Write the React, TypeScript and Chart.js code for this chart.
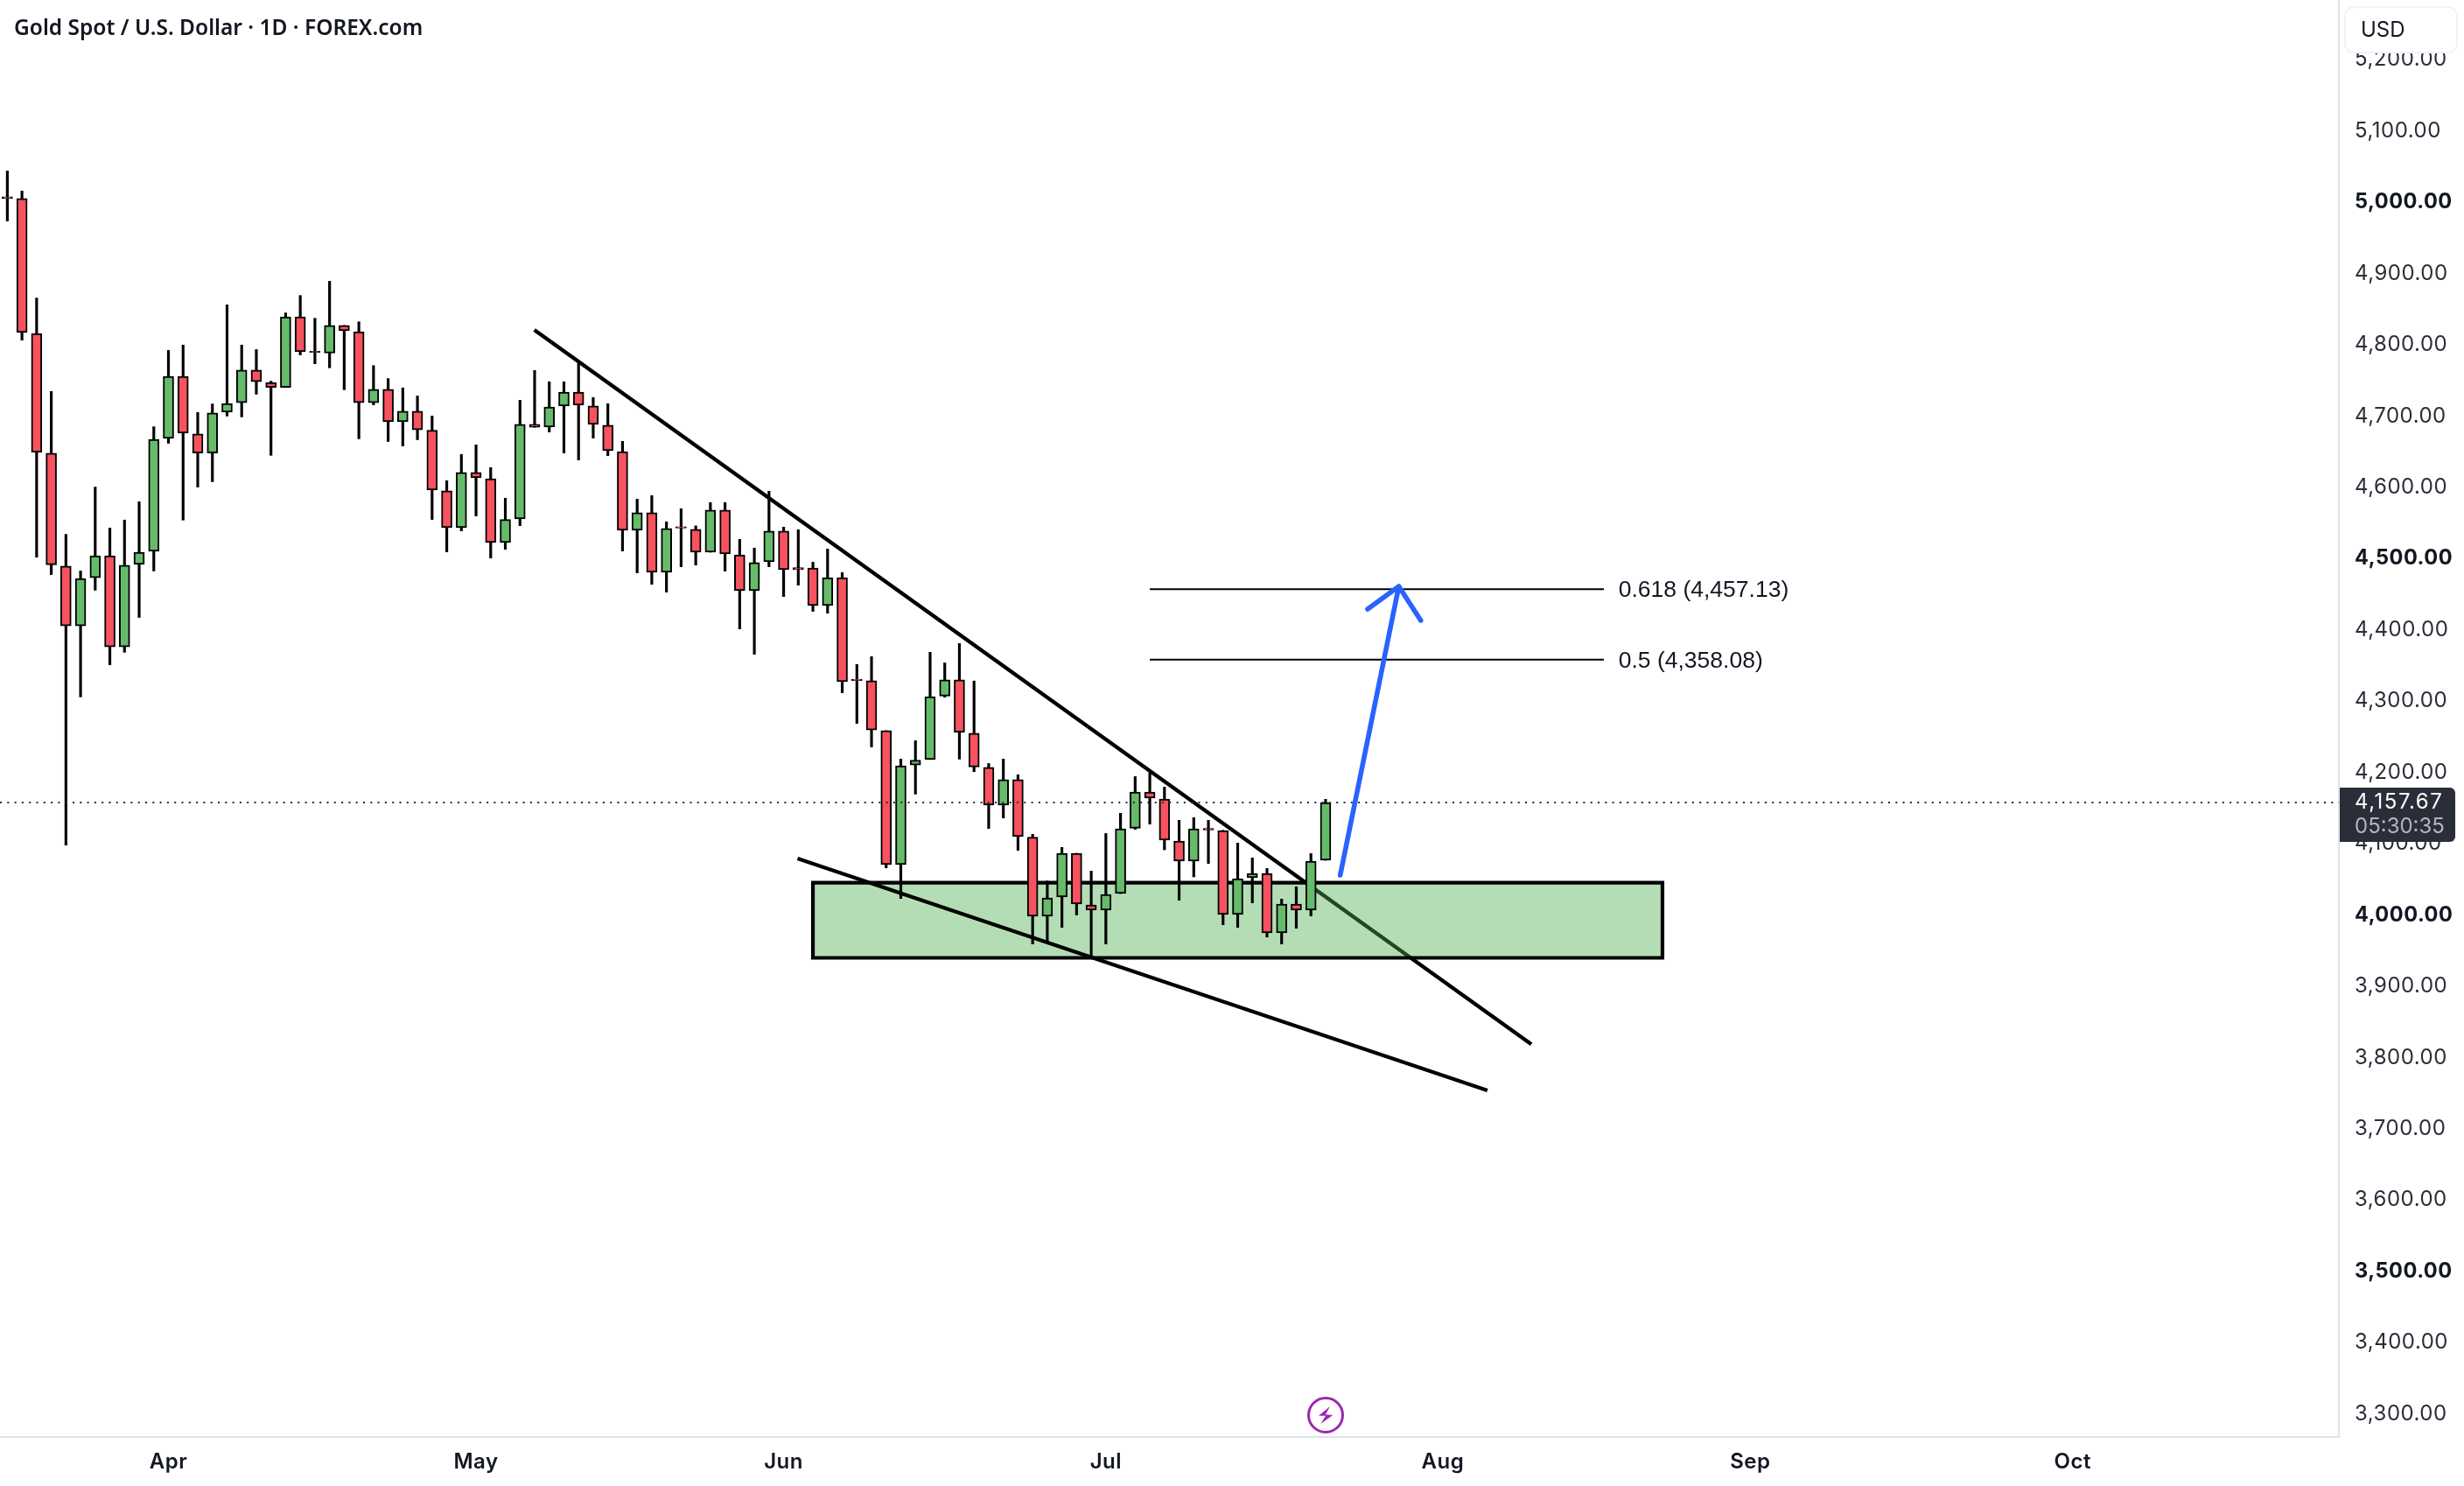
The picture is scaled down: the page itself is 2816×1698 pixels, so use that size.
import React, { useEffect, useRef } from "react";
import { Chart, registerables } from "chart.js";

Chart.register(...registerables);

const opens = [5007.5,5005,4815.8,4647.9,4489.4,4405.5,4473.2,4503.8,4376,4491.9,4510.1,4668.6,4755.7,4674.9,4647.9,4705.5,4718.7,4764.4,4746.9,4740,4839,4791,4788.2,4827,4818.3,4718.7,4737.5,4691.8,4706.8,4680,4594.9,4543.3,4620.7,4612,4522.4,4555.6,4688.2,4684.5,4714,4733.6,4714,4687,4650.1,4539.6,4564.2,4480.7,4544.7,4540.9,4508.9,4567.9,4505.2,4454.9,4495.4,4538.4,4487.2,4486.8,4434,4473.3,4330.7,4328.6,4258.5,4070.8,4210.2,4218.1,4307.1,4329.9,4255,4207.2,4154,4190,4109,3998.1,4025.1,4086.5,4014.1,4006.7,4030,4121.7,4172.4,4162.6,4103.7,4075.5,4121.3,4118.4,4000.6,4052.1,4058.3,3974.8,4015.3,4006.7,4076.7];
const closes = [5005,4817,4649.2,4491.3,4405.5,4471.9,4503.8,4376,4490.7,4508.9,4667.3,4755.7,4676.1,4647.9,4704.3,4717.4,4764.4,4748.1,4740,4839,4790.1,4789,4827,4819.6,4718.7,4737.5,4691.8,4706.8,4680.5,4596.1,4543.3,4620.7,4613.3,4522.4,4554.8,4688.2,4684.1,4712.7,4733.6,4715.2,4688.2,4651.3,4539.6,4564.2,4480.7,4542.1,4542.7,4508.9,4567.9,4506.5,4454.9,4494.2,4538.4,4484.4,4484.4,4434,4473.3,4327.2,4328.7,4259.3,4070.8,4209.3,4217.2,4306.3,4329.9,4256.3,4207.6,4154.1,4190,4109.8,3998.1,4023.9,4086.5,4015.3,4006.7,4028.8,4120.9,4172.4,4163.9,4104.9,4075.5,4120.9,4119.3,4000.6,4050.9,4058.3,3974.8,4015.3,4006.7,4075.5,4157.67];
const highs = [5043.8,5015.6,4865.3,4734.4,4533.9,4482.6,4600.3,4542.7,4554,4579.6,4684.9,4792,4799.5,4704.9,4716.8,4855.9,4799.5,4793.2,4748.8,4844.6,4869,4837.1,4889,4827,4832.1,4770.7,4752.5,4739.4,4728.1,4700,4609.2,4646,4659.5,4627.6,4584.6,4722.1,4763.9,4748,4748,4774.1,4725.8,4717.2,4664.4,4583.4,4588.3,4551.5,4569.9,4545.8,4578.5,4578.5,4526.9,4514.7,4594.5,4544.1,4540.4,4495,4513.4,4480.3,4351.4,4362.4,4258.5,4218.6,4244.4,4368.5,4353.6,4380.8,4328.2,4212.4,4218.7,4196.6,4113.1,4047.6,4094.7,4086.5,4061.5,4114.3,4142.6,4194.1,4199,4179.4,4132.8,4136.4,4132.8,4118.8,4100.8,4080,4065.2,4022.3,4039.4,4086.1,4162.2];
const lows = [4973.6,4806.4,4501.9,4477.5,4098,4305.9,4455.6,4351,4368.5,4417.4,4482.6,4661.7,4554,4600.3,4607.8,4699.9,4698.7,4730.6,4644.8,4740,4785.7,4773.2,4767.6,4736.9,4668,4715.6,4664.2,4657.9,4666.7,4554.8,4509.3,4538.8,4559.7,4500.7,4513,4546.2,4684.1,4677.5,4648.1,4638.3,4669,4644.4,4510.6,4479.9,4463.9,4452.9,4488.5,4490.9,4508.9,4482.3,4401.3,4365.7,4488.5,4446.7,4462.7,4425.9,4423.4,4311.7,4268.7,4235.7,4066,4023,4169.5,4218.1,4305.4,4218.6,4201,4121.2,4136,4090.6,3959.2,3961.7,3982.6,4000,3942,3959.2,4030,4120.1,4127.4,4091.4,4020.6,4053.4,4072.2,3986.2,3982.6,4016.9,3969,3959.2,3981.3,3998.5,4076.7];

const monthIndex = [11, 32, 53, 75, 98, 119, 141];
const monthLabels = ["Apr", "May", "Jun", "Jul", "Aug", "Sep", "Oct"];

const upperTrend = [{ x: 35.98, y: 4820.7 }, { x: 104.05, y: 3818.5 }];
const lowerTrend = [{ x: 53.95, y: 4079.2 }, { x: 101.05, y: 3753.8 }];
const zoneBars = [55, 113];
const zonePrices = [4045.2, 3939.8];
const fibLevels = ["0.618", "0.5"];
const fibPrices = [4457.13, 4358.08];
const fibBars = [78, 109];
const fibLabelBar = 110;
const arrowPath = [
  { x: 91, y: 4055.9 }, { x: 95, y: 4461 }, { x: 92.87, y: 4429.1 },
  { x: 95, y: 4461 }, { x: 96.5, y: 4413.1 },
];
const lastPrice = 4157.67;
const countdown = "05:30:35";
const titleText = "Gold Spot / U.S. Dollar · 1D · FOREX.com";
const currency = "USD";

const xRange = [-0.5, 159.18];
const yRange = [3267.6, 5283.6];

const RED = "#f7525f";
const GREEN = "#66bb6a";
const BLACK = "#000000";
const UI_FONT = "Inter, 'Noto Sans', sans-serif";

const fmt = (v: number) =>
  v.toLocaleString("en-US", { minimumFractionDigits: 2, maximumFractionDigits: 2 });

const isMajor = (c: any) => !!c.tick && c.tick.value % 500 === 0;

const overlayPlugin = {
  id: "overlay",
  beforeDraw(chart: any) {
    chart.ctx.letterSpacing = "0.5px";
  },
  beforeDatasetsDraw(chart: any) {
    chart.ctx.letterSpacing = "0px";
  },
  afterDraw(chart: any) {
    const { ctx, scales } = chart;
    const xs = scales.x;
    const ys = scales.y;
    ctx.save();

    // fib labels
    ctx.font = "26.5px 'Liberation Sans'";
    ctx.fillStyle = "#131722";
    ctx.textAlign = "left";
    ctx.textBaseline = "middle";
    fibPrices.forEach((p, i) => {
      ctx.fillText(`${fibLevels[i]} (${fmt(p)})`, xs.getPixelForValue(fibLabelBar), ys.getPixelForValue(p) + 2);
    });

    // title
    ctx.font = "600 24.5px 'Noto Sans'";
    ctx.fillStyle = "#131722";
    ctx.fillText(titleText, 16, 33.5);

    // currency button
    ctx.beginPath();
    ctx.roundRect(2680, 8, 128, 52, 10);
    ctx.fillStyle = "#ffffff";
    ctx.fill();
    ctx.strokeStyle = "#f0f3fa";
    ctx.lineWidth = 2;
    ctx.stroke();
    ctx.font = `24px ${UI_FONT}`;
    ctx.fillStyle = "#131722";
    ctx.fillText(currency, 2698, 34.5);

    // last price tag
    const tagY = ys.getPixelForValue(lastPrice);
    ctx.beginPath();
    ctx.roundRect(2674, tagY - 17, 132, 62, [0, 6, 6, 0]);
    ctx.fillStyle = "#2a2e39";
    ctx.fill();
    ctx.fillStyle = "#ffffff";
    ctx.letterSpacing = "1.5px";
    ctx.fillText(fmt(lastPrice), 2691, tagY);
    ctx.letterSpacing = "0px";
    ctx.fillStyle = "#b2b5be";
    ctx.fillText(countdown, 2691, tagY + 28);

    // bolt badge
    ctx.translate(1515, 1617);
    ctx.beginPath();
    ctx.arc(0, 0, 19.5, 0, Math.PI * 2);
    ctx.strokeStyle = "#9c27b0";
    ctx.lineWidth = 3;
    ctx.stroke();
    ctx.beginPath();
    ctx.moveTo(5, -10);
    ctx.lineTo(-8, 0.7);
    ctx.lineTo(0, 0.7);
    ctx.lineTo(-5.7, 10);
    ctx.lineTo(8.3, 0);
    ctx.lineTo(0, -0.7);
    ctx.closePath();
    ctx.fillStyle = "#9c27b0";
    ctx.fill();
    ctx.restore();
  },
};

const lineBase = {
  type: "line" as const,
  pointRadius: 0,
  tension: 0,
  fill: false,
};

export default function App() {
  const ref = useRef<HTMLCanvasElement>(null);

  useEffect(() => {
    const chart = new Chart(ref.current as HTMLCanvasElement, {
      type: "bar",
      data: {
        datasets: [
          { ...lineBase, order: 10, data: upperTrend, borderColor: BLACK, borderWidth: 4.4 },
          {
            ...lineBase,
            order: 9,
            data: [
              { x: zoneBars[0], y: zonePrices[0] },
              { x: zoneBars[1], y: zonePrices[0] },
              { x: zoneBars[1], y: zonePrices[1] },
              { x: zoneBars[0], y: zonePrices[1] },
              { x: zoneBars[0], y: zonePrices[0] },
            ],
            fill: "shape",
            backgroundColor: "rgba(76,175,80,0.42)",
            borderColor: BLACK,
            borderWidth: 4.2,
            borderJoinStyle: "miter",
            borderCapStyle: "square",
          },
          {
            type: "bar",
            order: 8,
            grouped: false,
            barThickness: 2.5,
            backgroundColor: BLACK,
            borderWidth: 0,
            data: highs.map((h, i) => ({ x: i, y: [lows[i], h] })),
          },
          {
            type: "bar",
            order: 7,
            grouped: false,
            barThickness: 12,
            borderColor: BLACK,
            borderWidth: 2,
            borderSkipped: false,
            backgroundColor: opens.map((o, i) => (closes[i] >= o ? GREEN : RED)),
            data: opens.map((o, i) => ({ x: i, y: [o, closes[i]] })),
          },
          { ...lineBase, order: 6, data: lowerTrend, borderColor: BLACK, borderWidth: 4.4 },
          ...fibPrices.map((p) => ({
            ...lineBase,
            order: 5,
            data: fibBars.map((b) => ({ x: b, y: p })),
            borderColor: BLACK,
            borderWidth: 2,
          })),
          {
            ...lineBase,
            order: 4,
            data: xRange.map((b) => ({ x: b, y: lastPrice })),
            borderColor: "#2a2e39",
            borderWidth: 2,
            borderDash: [2, 6.3],
          },
          {
            ...lineBase,
            order: 3,
            data: arrowPath,
            borderColor: "#2962ff",
            borderWidth: 5.6,
            borderCapStyle: "round",
            borderJoinStyle: "round",
          },
        ] as any,
      },
      options: {
        responsive: false,
        animation: false,
        devicePixelRatio: 1,
        events: [],
        layout: { padding: 0 },
        plugins: { legend: { display: false }, tooltip: { enabled: false }, title: { display: false } },
        scales: {
          x: {
            type: "linear",
            min: xRange[0],
            max: xRange[1],
            offset: false,
            afterBuildTicks: (axis: any) => {
              axis.ticks = monthIndex.map((value) => ({ value }));
            },
            afterFit: (axis: any) => {
              axis.height = 56;
              axis.paddingLeft = 0;
              axis.paddingRight = 0;
            },
            grid: { display: false, drawTicks: false },
            border: { color: "#e0e3eb", width: 2 },
            ticks: {
              autoSkip: false,
              maxRotation: 0,
              padding: 14.5,
              color: "#131722",
              font: { family: UI_FONT, size: 24, weight: 600 },
              callback: (v: any) => monthLabels[monthIndex.indexOf(v)] ?? "",
            },
          },
          y: {
            type: "linear",
            position: "right",
            min: yRange[0],
            max: yRange[1],
            afterFit: (axis: any) => {
              axis.width = 143;
              axis.paddingTop = 0;
              axis.paddingBottom = 0;
            },
            grid: { display: false, drawTicks: false },
            border: { color: "#e0e3eb", width: 2 },
            ticks: {
              stepSize: 100,
              includeBounds: false,
              autoSkip: false,
              padding: 18,
              color: (c: any) => (isMajor(c) ? "#131722" : "#2a2e39"),
              font: (c: any) => ({
                family: UI_FONT,
                size: isMajor(c) ? 23.6 : 24,
                weight: isMajor(c) ? 700 : 400,
              }),
              callback: (v: any) => fmt(v),
            },
          },
        },
      } as any,
      plugins: [overlayPlugin],
    });
    return () => chart.destroy();
  }, []);

  return (
    <canvas
      ref={ref}
      width={2816}
      height={1698}
      style={{ position: "absolute", left: 0, top: 0, display: "block" }}
    />
  );
}
